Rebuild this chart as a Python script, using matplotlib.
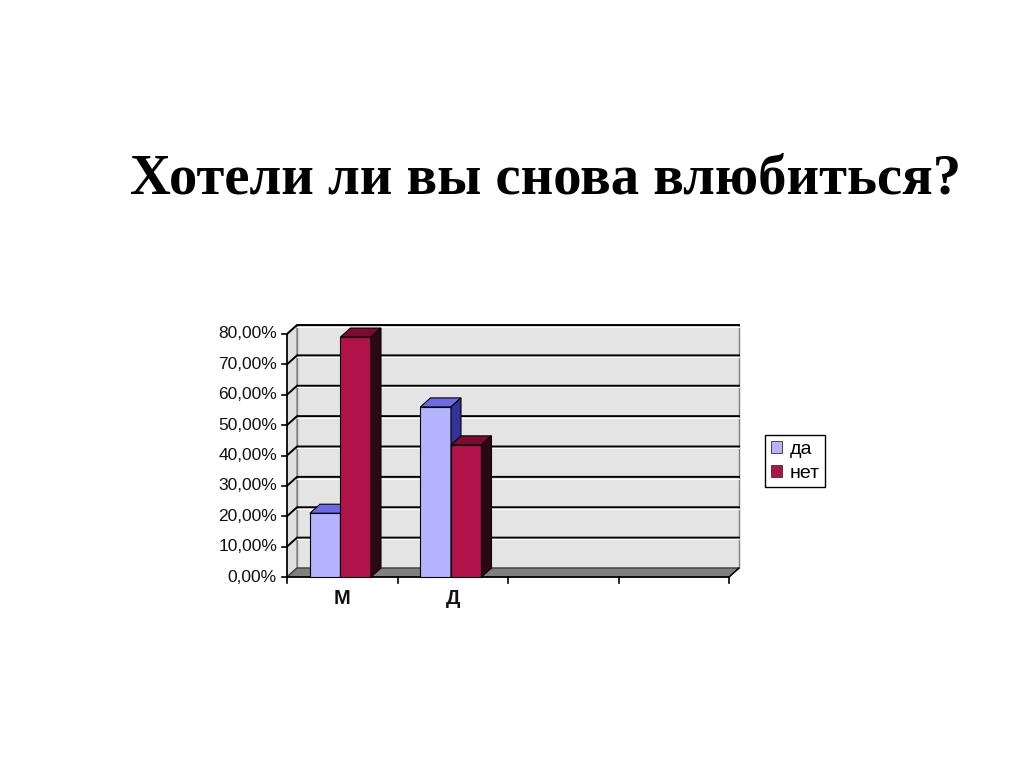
import matplotlib
matplotlib.use("Agg")
import matplotlib.pyplot as plt
from matplotlib.patches import Polygon, Patch

# ---- data ----
categories = ["М", "Д", "", ""]
series_names = ["да", "нет"]
da_values = [21.0, 56.0]
net_values = [79.0, 43.5]
y_ticks = [0, 10, 20, 30, 40, 50, 60, 70, 80]
y_tick_labels = ["0,00%", "10,00%", "20,00%", "30,00%", "40,00%",
                 "50,00%", "60,00%", "70,00%", "80,00%"]
title = "Хотели ли вы снова влюбиться?"

# ---- styling ----
front = {"да": "#B3B3FF", "нет": "#B2124A"}
top = {"да": "#6B6BE6", "нет": "#7E0A34"}
side = {"да": "#333399", "нет": "#2A0814"}

fig = plt.figure(figsize=(10.24, 7.67), dpi=100)
fig.patch.set_facecolor("white")

W, H = 1024, 767
left_px, right_px = 287, 729
bot_px, top_px = 577, 334
ax = fig.add_axes([left_px / W, 1 - bot_px / H, (right_px - left_px) / W, (bot_px - top_px) / H])
ncat = len(categories)
ymax = y_ticks[-1]
ax.set_xlim(0, ncat)
ax.set_ylim(0, ymax)
ax.axis("off")

px_x = (right_px - left_px) / ncat
px_y = (bot_px - top_px) / ymax
DX = 10 / px_x
DY = 9 / px_y

# walls
ax.add_patch(Polygon([(DX, DY), (ncat + DX, DY), (ncat + DX, ymax + DY), (DX, ymax + DY)],
                     closed=True, facecolor="#E4E4E4", edgecolor="#808080", lw=1.0,
                     clip_on=False, zorder=1))
ax.add_patch(Polygon([(0, 0), (DX, DY), (DX, ymax + DY), (0, ymax)],
                     closed=True, facecolor="#E0E0E0", edgecolor="#808080", lw=1.0,
                     clip_on=False, zorder=1))
ax.add_patch(Polygon([(0, 0), (ncat, 0), (ncat + DX, DY), (DX, DY)],
                     closed=True, facecolor="#808080", edgecolor="#404040", lw=1.0,
                     clip_on=False, zorder=2))

# gridlines
for v in y_ticks[1:]:
    ax.plot([0, DX, ncat + DX], [v, v + DY, v + DY], color="black", lw=1.4,
            clip_on=False, zorder=2, solid_joinstyle="miter")
    ax.plot([DX, ncat + DX], [v + DY - 0.55, v + DY - 0.55], color="white", lw=0.8,
            clip_on=False, zorder=2)

# axes lines
ax.plot([0, 0], [0, ymax], color="black", lw=1.2, clip_on=False, zorder=3)
ax.plot([0, ncat], [0, 0], color="black", lw=1.2, clip_on=False, zorder=3)
ax.plot([ncat, ncat + DX], [0, DY], color="black", lw=1.0, clip_on=False, zorder=3)
tick_len_x = 5 / px_x
for v, lab in zip(y_ticks, y_tick_labels):
    ax.plot([-tick_len_x, 0], [v, v], color="black", lw=1.2, clip_on=False, zorder=3)
    ax.text(-10 / px_x, v, lab, ha="right", va="center", fontsize=12.5,
            family="Liberation Sans", color="#111111")
tick_len_y = 6 / px_y
for i in range(ncat + 1):
    ax.plot([i, i], [0, -tick_len_y], color="black", lw=1.2, clip_on=False, zorder=3)
for i, c in enumerate(categories):
    if c:
        ax.text(i + 0.5, -22 / px_y, c, ha="center", va="center", fontsize=14.5,
                family="Liberation Sans", fontweight="bold", color="#111111")

# bars
bw = 0.276
offs = {"да": 0.208, "нет": 0.208 + bw}
series = {"да": da_values, "нет": net_values}
z = 5
for i in range(len(da_values)):
    for name in series_names:
        v = series[name][i]
        x0 = i + offs[name]
        x1 = x0 + bw
        ax.bar(x0, v, width=bw, align="edge", color=front[name], edgecolor="black",
               lw=0.8, zorder=z, clip_on=False)
        ax.add_patch(Polygon([(x0, v), (x1, v), (x1 + DX, v + DY), (x0 + DX, v + DY)],
                             closed=True, facecolor=top[name], edgecolor="black", lw=0.8,
                             zorder=z, clip_on=False))
        ax.add_patch(Polygon([(x1, 0), (x1 + DX, DY), (x1 + DX, v + DY), (x1, v)],
                             closed=True, facecolor=side[name], edgecolor="black", lw=0.8,
                             zorder=z, clip_on=False))
        z += 1

# legend
handles = [Patch(facecolor=front[n], edgecolor="#333333", lw=0.6) for n in series_names]
leg = ax.legend(handles, series_names, loc="upper left",
                bbox_to_anchor=(765 / W, 1 - 435 / H), bbox_transform=fig.transFigure,
                frameon=True, fancybox=False, edgecolor="black", framealpha=1,
                prop={"family": "Liberation Sans", "size": 14},
                handlelength=0.55, handleheight=0.55, handletextpad=0.4,
                borderpad=0.3, labelspacing=0.35, borderaxespad=0)
leg.get_frame().set_linewidth(1.0)

# title
fig.text(130 / W, 1 - 193 / H, title, ha="left", va="baseline", fontsize=40.75,
         family="Liberation Serif", fontweight="bold", color="black")

fig.savefig("out.png", dpi=100, facecolor="white")
